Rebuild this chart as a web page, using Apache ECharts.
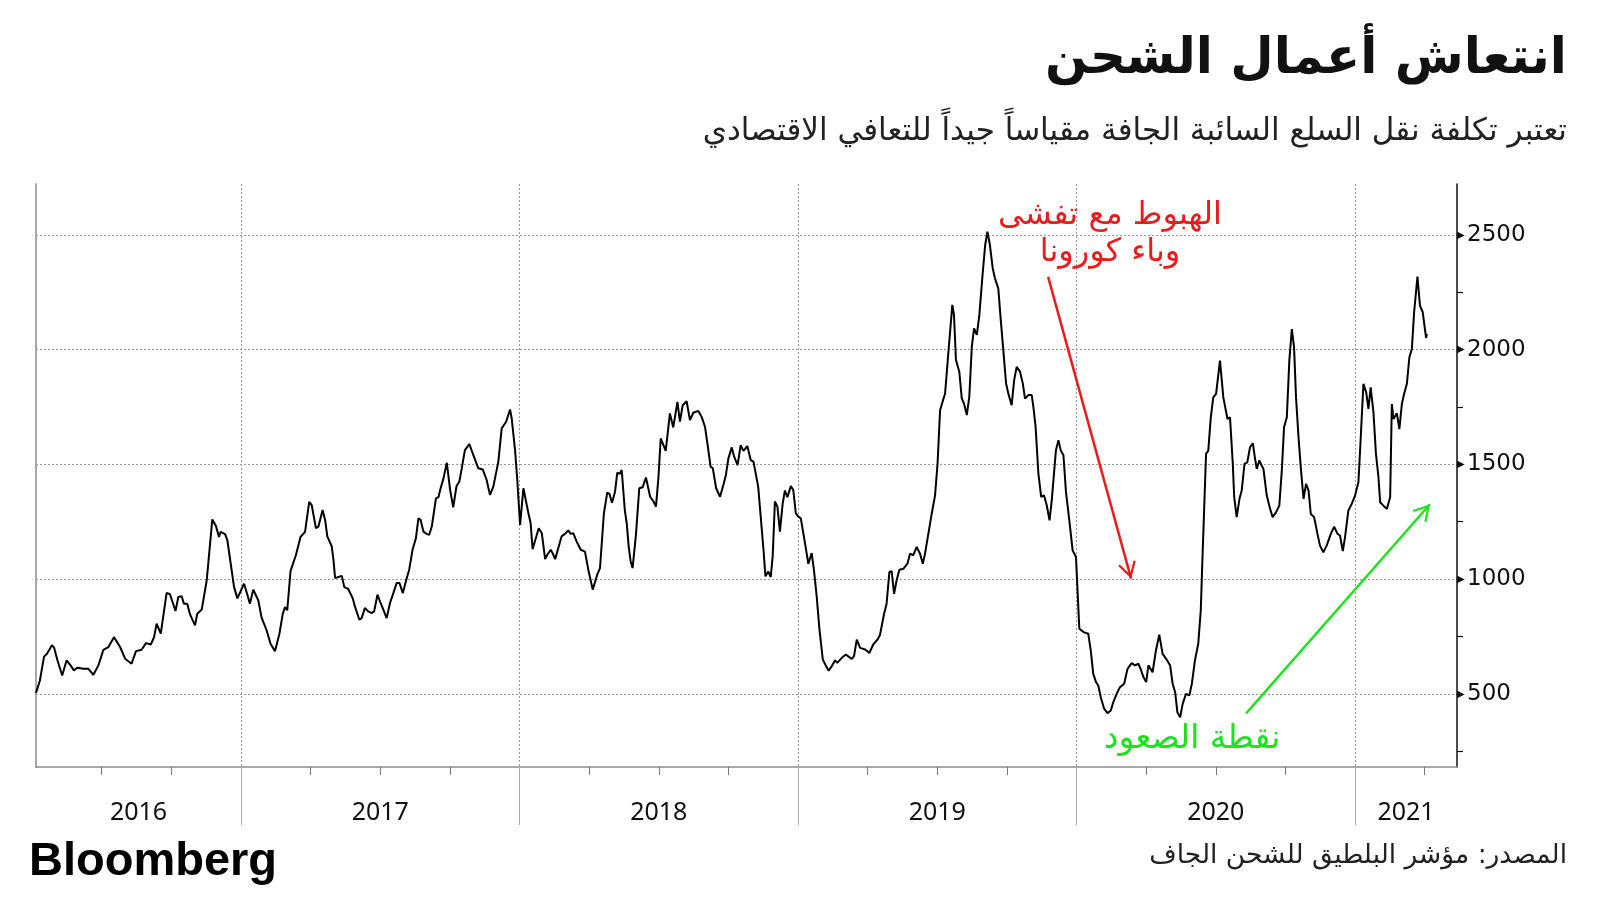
<!DOCTYPE html>
<html><head><meta charset="utf-8">
<script src="https://cdn.jsdelivr.net/npm/echarts@6/dist/echarts.min.js"></script>
<style>html,body{margin:0;padding:0;background:#fff}#c{width:1600px;height:900px}</style>
</head><body><div id="c"></div>
<script>
// Baltic Dry Index, [decimal year, index value]
const bdi2016 = [[2016.264,504],[2016.278,558],[2016.293,663],[2016.302,672],[2016.312,692],[2016.321,712],[2016.329,701],[2016.341,646],[2016.358,580],[2016.374,646],[2016.388,624],[2016.400,602],[2016.412,614],[2016.434,609],[2016.452,609],[2016.470,583],[2016.488,624],[2016.506,692],[2016.524,704],[2016.544,747],[2016.566,704],[2016.584,653],[2016.607,631],[2016.623,686],[2016.643,692],[2016.659,721],[2016.676,715],[2016.688,747],[2016.697,806],[2016.712,762],[2016.733,940],[2016.745,934],[2016.765,861],[2016.775,922],[2016.787,925],[2016.795,893],[2016.807,893],[2016.817,846],[2016.835,798],[2016.843,849],[2016.859,867],[2016.877,995],[2016.883,1075],[2016.897,1260],[2016.910,1231],[2016.921,1184],[2016.927,1206],[2016.943,1196],[2016.951,1170],[2016.963,1068],[2016.975,966],[2016.987,916],[2016.996,940]];
const bdi2017 = [[2017.011,980],[2017.020,944],[2017.032,893],[2017.044,954],[2017.062,908],[2017.074,832],[2017.092,777],[2017.106,718],[2017.122,686],[2017.138,762],[2017.150,849],[2017.158,878],[2017.166,864],[2017.178,1036],[2017.197,1104],[2017.214,1184],[2017.230,1206],[2017.245,1337],[2017.254,1322],[2017.269,1222],[2017.278,1229],[2017.293,1301],[2017.302,1258],[2017.310,1186],[2017.326,1142],[2017.332,1084],[2017.338,1004],[2017.350,1009],[2017.362,1014],[2017.371,965],[2017.385,957],[2017.401,917],[2017.409,881],[2017.425,823],[2017.433,830],[2017.445,874],[2017.457,859],[2017.469,852],[2017.478,859],[2017.490,932],[2017.499,903],[2017.511,867],[2017.523,830],[2017.535,896],[2017.547,939],[2017.559,983],[2017.569,983],[2017.581,939],[2017.595,1004],[2017.604,1041],[2017.616,1128],[2017.628,1178],[2017.637,1265],[2017.645,1258],[2017.655,1207],[2017.667,1197],[2017.676,1193],[2017.685,1229],[2017.700,1352],[2017.709,1357],[2017.715,1388],[2017.727,1439],[2017.739,1507],[2017.751,1388],[2017.762,1313],[2017.774,1406],[2017.784,1425],[2017.792,1478],[2017.804,1562],[2017.820,1588],[2017.834,1541],[2017.852,1483],[2017.868,1478],[2017.882,1432],[2017.894,1367],[2017.906,1403],[2017.924,1512],[2017.936,1657],[2017.952,1686],[2017.966,1739],[2017.972,1700],[2017.984,1562],[2017.992,1432]];
const bdi2018 = [[2018.002,1236],[2018.014,1396],[2018.020,1388],[2018.032,1287],[2018.040,1243],[2018.047,1130],[2018.053,1135],[2018.069,1222],[2018.080,1200],[2018.092,1087],[2018.100,1106],[2018.112,1128],[2018.119,1113],[2018.128,1087],[2018.133,1091],[2018.151,1186],[2018.163,1197],[2018.175,1212],[2018.184,1197],[2018.193,1200],[2018.205,1164],[2018.220,1128],[2018.235,1120],[2018.247,1041],[2018.263,954],[2018.267,957],[2018.279,1019],[2018.289,1048],[2018.303,1287],[2018.315,1377],[2018.323,1371],[2018.332,1333],[2018.343,1381],[2018.351,1464],[2018.359,1458],[2018.367,1475],[2018.378,1301],[2018.385,1243],[2018.392,1142],[2018.399,1077],[2018.406,1048],[2018.418,1193],[2018.430,1396],[2018.442,1400],[2018.454,1443],[2018.469,1359],[2018.481,1338],[2018.490,1316],[2018.499,1446],[2018.507,1613],[2018.514,1620],[2018.525,1559],[2018.540,1722],[2018.552,1661],[2018.567,1772],[2018.576,1686],[2018.586,1758],[2018.600,1775],[2018.612,1693],[2018.624,1725],[2018.642,1733],[2018.654,1707],[2018.666,1664],[2018.678,1562],[2018.686,1490],[2018.694,1483],[2018.706,1396],[2018.720,1359],[2018.732,1410],[2018.741,1454],[2018.750,1526],[2018.762,1574],[2018.770,1536],[2018.783,1497],[2018.794,1584],[2018.804,1559],[2018.818,1580],[2018.830,1519],[2018.840,1512],[2018.857,1403],[2018.866,1272],[2018.876,1128],[2018.883,1012],[2018.893,1033],[2018.902,1009],[2018.909,1099],[2018.917,1338],[2018.926,1316],[2018.935,1207],[2018.945,1330],[2018.953,1386],[2018.962,1357],[2018.974,1406],[2018.983,1388],[2018.992,1287]];
const bdi2019 = [[2019.001,1272],[2019.010,1265],[2019.017,1258],[2019.025,1157],[2019.037,1067],[2019.049,1113],[2019.057,1041],[2019.067,925],[2019.077,780],[2019.089,649],[2019.101,620],[2019.110,601],[2019.121,620],[2019.133,646],[2019.141,635],[2019.157,657],[2019.172,671],[2019.193,652],[2019.201,664],[2019.211,736],[2019.223,700],[2019.241,693],[2019.256,678],[2019.270,715],[2019.285,736],[2019.294,755],[2019.309,849],[2019.318,893],[2019.328,1031],[2019.336,1035],[2019.345,936],[2019.354,995],[2019.364,1041],[2019.378,1045],[2019.393,1067],[2019.402,1111],[2019.414,1104],[2019.426,1140],[2019.438,1111],[2019.448,1067],[2019.456,1111],[2019.468,1198],[2019.480,1285],[2019.492,1365],[2019.501,1504],[2019.510,1736],[2019.519,1773],[2019.528,1809],[2019.540,1991],[2019.554,2195],[2019.560,2151],[2019.567,1955],[2019.579,1904],[2019.588,1787],[2019.596,1765],[2019.606,1715],[2019.615,1795],[2019.624,2013],[2019.632,2093],[2019.642,2064],[2019.651,2151],[2019.663,2333],[2019.672,2456],[2019.680,2514],[2019.689,2456],[2019.699,2355],[2019.707,2311],[2019.719,2267],[2019.728,2129],[2019.737,1998],[2019.747,1853],[2019.755,1809],[2019.767,1758],[2019.776,1867],[2019.785,1925],[2019.797,1904],[2019.807,1853],[2019.815,1787],[2019.827,1802],[2019.839,1802],[2019.845,1751],[2019.853,1664],[2019.863,1460],[2019.873,1358],[2019.883,1365],[2019.893,1322],[2019.903,1256],[2019.911,1344],[2019.919,1460],[2019.926,1562],[2019.935,1605],[2019.943,1562],[2019.953,1540],[2019.962,1380],[2019.974,1256],[2019.986,1125],[2019.998,1096]];
const bdi2020 = [[2020.003,965],[2020.010,784],[2020.025,769],[2020.042,762],[2020.051,689],[2020.060,587],[2020.070,551],[2020.078,536],[2020.087,485],[2020.099,435],[2020.111,416],[2020.123,427],[2020.132,464],[2020.144,500],[2020.156,529],[2020.171,544],[2020.183,609],[2020.198,634],[2020.210,624],[2020.222,631],[2020.230,609],[2020.240,573],[2020.250,551],[2020.258,624],[2020.273,594],[2020.285,689],[2020.297,758],[2020.309,674],[2020.324,648],[2020.336,623],[2020.345,544],[2020.354,507],[2020.362,420],[2020.372,398],[2020.381,456],[2020.393,500],[2020.405,493],[2020.414,544],[2020.425,645],[2020.437,718],[2020.446,863],[2020.453,1124],[2020.458,1299],[2020.465,1546],[2020.473,1560],[2020.482,1705],[2020.491,1792],[2020.501,1807],[2020.515,1952],[2020.527,1792],[2020.542,1698],[2020.551,1705],[2020.561,1502],[2020.566,1357],[2020.575,1270],[2020.585,1350],[2020.593,1386],[2020.603,1502],[2020.613,1509],[2020.623,1575],[2020.633,1592],[2020.641,1524],[2020.647,1480],[2020.656,1517],[2020.671,1480],[2020.683,1364],[2020.695,1306],[2020.704,1270],[2020.716,1291],[2020.728,1320],[2020.737,1473],[2020.745,1662],[2020.755,1705],[2020.764,1952],[2020.773,2090],[2020.781,2010],[2020.788,1792],[2020.797,1618],[2020.805,1488],[2020.815,1350],[2020.824,1415],[2020.833,1386],[2020.841,1284],[2020.853,1270],[2020.865,1197],[2020.874,1146],[2020.886,1117],[2020.898,1146],[2020.913,1197],[2020.925,1229],[2020.937,1197],[2020.946,1190],[2020.956,1122],[2020.964,1183],[2020.976,1299],[2020.988,1328]];
const bdi2021 = [[2021.000,1364],[2021.012,1422],[2021.018,1560],[2021.030,1851],[2021.040,1814],[2021.048,1742],[2021.056,1836],[2021.066,1727],[2021.075,1546],[2021.084,1444],[2021.090,1335],[2021.102,1320],[2021.114,1306],[2021.126,1357],[2021.132,1763],[2021.138,1698],[2021.150,1723],[2021.159,1654],[2021.168,1763],[2021.176,1807],[2021.186,1851],[2021.195,1967],[2021.204,2003],[2021.212,2163],[2021.224,2318],[2021.233,2192],[2021.243,2163],[2021.255,2051],[2021.258,2068]];

const yearBounds = [2017, 2018, 2019, 2020, 2021];
const quarterTicks = [2016.5,2016.75,2017.25,2017.5,2017.75,2018.25,2018.5,2018.75,2019.25,2019.5,2019.75,2020.25,2020.5,2020.75,2021.25];
const yMajor = [500, 1000, 1500, 2000, 2500];
const yMinor = [250, 750, 1250, 1750, 2250];
const xMin = 2016.264, xMax = 2021.366, yMin = 181, yMax = 2722;

const titleText = 'انتعاش أعمال الشحن';
const subtitleText = 'تعتبر تكلفة نقل السلع السائبة الجافة مقياساً جيداً للتعافي الاقتصادي';
const sourceText = 'المصدر: مؤشر البلطيق للشحن الجاف';
const redNote = 'الهبوط مع تفشى\nوباء كورونا';
const greenNote = 'نقطة الصعود';
const redArrow = [[2019.898, 2317], [2020.196, 1002]];
const greenArrow = [[2020.609, 415], [2021.269, 1326]];
const redNotePos = [2020.120, 2503];
const greenNotePos = [2020.415, 300];

const RED = '#ea1b1b', GREEN = '#1fe21f';
const AR = 'DejaVu Sans';
const chevron = 'path://M0,12L7,0L14,12L12.53,12.86L7,3.4L1.47,12.86Z M7,-12.86L7,-12.86';

const allData = [].concat(bdi2016, bdi2017, bdi2018, bdi2019, bdi2020, bdi2021);
const yearMids = [];
for (let y = 2016; y <= 2021; y++) {
  const a = Math.max(xMin, y), b = Math.min(xMax, y + 1);
  yearMids.push((a + b) / 2);
}

const chart = echarts.init(document.getElementById('c'), null, {renderer: 'canvas'});
chart.setOption({
  animation: false,
  backgroundColor: '#fff',
  title: [
    {text: titleText, right: 33, top: 35, padding: 0, textStyle: {fontFamily: AR, fontWeight: 'bold', fontSize: 50, color: '#111'}},
    {text: subtitleText, right: 33, top: 116, padding: 0, textStyle: {fontFamily: AR, fontWeight: 'normal', fontSize: 31, color: '#222'}},
    {text: sourceText, right: 33, top: 843, padding: 0, textStyle: {fontFamily: AR, fontWeight: 'normal', fontSize: 26.5, color: '#222'}},
    {text: 'Bloomberg', left: 29, top: 839, padding: 0, textStyle: {fontFamily: 'Liberation Sans', fontWeight: 'bold', fontSize: 47, color: '#000'}}
  ],
  grid: {left: 36, right: 143, top: 184, bottom: 133, containLabel: false},
  xAxis: [
    {type: 'value', min: xMin, max: xMax, position: 'bottom',
     axisLine: {show: true, onZero: false, lineStyle: {color: '#8a8a8a', width: 1.5}},
     axisTick: {show: true, customValues: quarterTicks, length: 8, lineStyle: {color: '#777', width: 1}},
     axisLabel: {show: false}, splitLine: {show: false}},
    {type: 'value', min: xMin, max: xMax, position: 'bottom',
     axisLine: {show: false},
     axisTick: {show: true, customValues: yearBounds, length: 58, lineStyle: {color: '#aaa', width: 1}},
     axisLabel: {show: true, customValues: yearMids, margin: 33, fontFamily: 'Noto Sans', fontSize: 25, color: '#111',
                 formatter: v => String(Math.floor(v))},
     splitLine: {show: true, lineStyle: {color: '#9a9a9a', type: [2, 2], width: 1}}}
  ],
  yAxis: [
    {type: 'value', min: yMin, max: yMax, position: 'right',
     axisLine: {show: true, onZero: false, lineStyle: {color: '#111', width: 1.5}},
     axisTick: {show: false, customValues: yMajor},
     axisLabel: {show: true, customValues: yMajor, margin: 0,
                 formatter: v => '{t|\u25B6}{n|' + v + '}',
                 rich: {t: {fontSize: 10, color: '#111', padding: [0, 2, 0, 0], verticalAlign: 'middle'},
                        n: {fontSize: 23, fontFamily: 'DejaVu Sans', color: '#111', verticalAlign: 'middle'}}},
     splitLine: {show: true, lineStyle: {color: '#9a9a9a', type: [2, 2], width: 1}}},
    {type: 'value', min: yMin, max: yMax, position: 'right',
     axisLine: {show: false},
     axisTick: {show: true, customValues: yMinor, length: 6, lineStyle: {color: '#111', width: 1.2}},
     axisLabel: {show: false}, splitLine: {show: false}},
    {type: 'value', min: yMin, max: yMax, position: 'left',
     axisLine: {show: true, onZero: false, lineStyle: {color: '#a8a8a8', width: 2}},
     axisTick: {show: false}, axisLabel: {show: false}, splitLine: {show: false}}
  ],
  series: [{
    type: 'line', xAxisIndex: 0, yAxisIndex: 0, data: allData,
    showSymbol: false, symbol: 'none', smooth: false,
    lineStyle: {color: '#000', width: 2},
    silent: true,
    markLine: {
      silent: true, animation: false,
      symbol: ['none', chevron], symbolSize: [18.2, 33.4],
      label: {show: false},
      data: [
        [{coord: redArrow[0], lineStyle: {color: RED, width: 2.5, type: 'solid'}, itemStyle: {color: RED}}, {coord: redArrow[1]}],
        [{coord: greenArrow[0], lineStyle: {color: GREEN, width: 2.5, type: 'solid'}, itemStyle: {color: GREEN}}, {coord: greenArrow[1]}]
      ]
    },
    markPoint: {
      silent: true, animation: false, symbol: 'circle', symbolSize: 0,
      data: [
        {coord: redNotePos, label: {show: true, position: 'inside', formatter: redNote, color: RED, fontFamily: AR, fontSize: 32, lineHeight: 37, align: 'center'}},
        {coord: greenNotePos, label: {show: true, position: 'inside', formatter: greenNote, color: GREEN, fontFamily: AR, fontSize: 33, align: 'center'}}
      ]
    }
  }]
});
</script></body></html>
